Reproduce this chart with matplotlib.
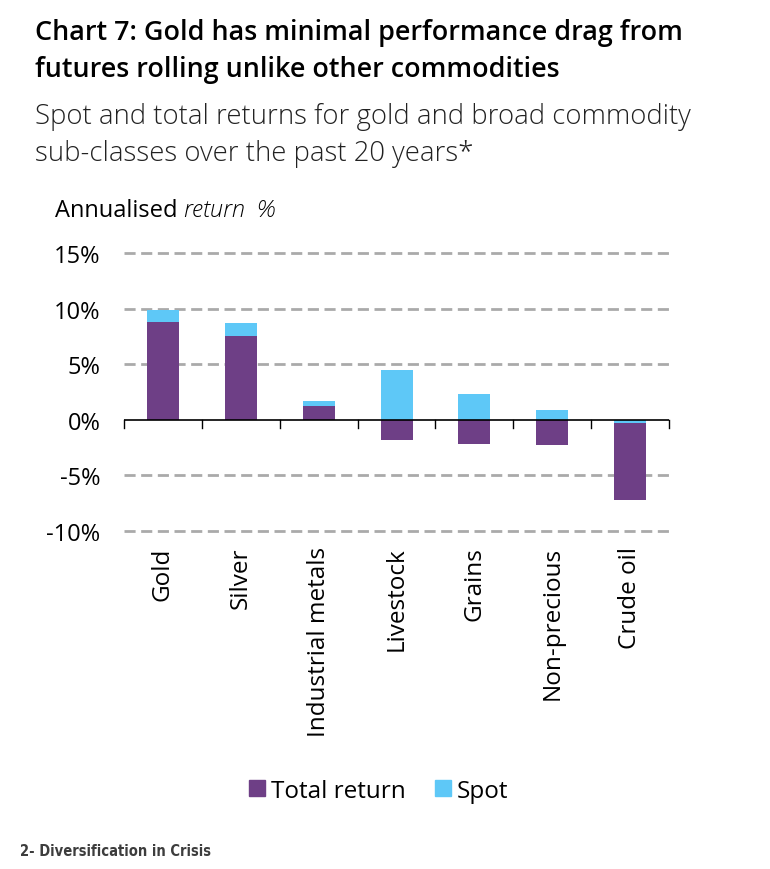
import numpy as np
import matplotlib.pyplot as plt
from matplotlib.patches import Patch

# data (annualised %, past 20 years)
categories = ['Gold', 'Silver', 'Industrial metals', 'Livestock', 'Grains',
              'Non-precious', 'Crude oil']
total_return = [8.8, 7.5, 1.2, -1.8, -2.15, -2.3, -7.25]
spot = [9.9, 8.75, 1.7, 4.5, 2.35, 0.85, -0.25]
yticks = [-10, -5, 0, 5, 10, 15]

purple = '#6e3f86'
blue = '#5ec8f7'
grid_col = '#aaaaaa'

plt.rcParams['font.family'] = ['Open Sans', 'DejaVu Sans']

fig = plt.figure(figsize=(7.7, 8.7), dpi=100)
ax = fig.add_axes([0.161, 0.3885, 0.708, 0.3195])

x = np.arange(len(categories))
w = 0.41
# bigger bar goes behind, smaller one on top (as in the source)
for i in x:
    t, s = total_return[i], spot[i]
    zt, zs = (3, 2) if abs(s) >= abs(t) else (2, 3)
    ax.bar(i, s, w, color=blue, zorder=zs)
    ax.bar(i, t, w, color=purple, zorder=zt)

ax.set_xlim(-0.5, len(categories) - 0.5)
ax.set_ylim(-10, 15)

for v in yticks:
    if v != 0:
        ax.axhline(v, color=grid_col, lw=2.0, ls=(0, (4, 2)), zorder=1,
                   clip_on=False)
ax.axhline(0, color='black', lw=1.2, zorder=4)

# category separators on the zero line
for b in np.arange(-0.5, len(categories), 1.0):
    ax.plot([b, b], [0, -0.7], color='black', lw=1.0, zorder=4,
            clip_on=False)

for sp in ax.spines.values():
    sp.set_visible(False)

ax.set_yticks(yticks)
ax.set_yticklabels([f'{v}%' for v in yticks], fontsize=17)
ax.tick_params(axis='y', length=0, pad=17)
ax.set_xticks(x)
ax.set_xticklabels(categories, rotation=90, fontsize=17.5)
ax.tick_params(axis='x', length=0, pad=11)

# titles
fig.text(0.045, 0.962, 'Chart 7: Gold has minimal performance drag from',
         fontsize=19.4, fontweight='semibold', va='center')
fig.text(0.045, 0.919, 'futures rolling unlike other commodities',
         fontsize=19.4, fontweight='semibold', va='center')
fig.text(0.045, 0.866, 'Spot and total returns for gold and broad commodity',
         fontsize=19.8, fontweight='light', color='#222222', va='center')
fig.text(0.045, 0.823, 'sub-classes over the past 20 years*',
         fontsize=19.8, fontweight='light', color='#222222', va='center')
t1 = fig.text(0.072, 0.758, 'Annualised ', fontsize=17, va='center')
fig.canvas.draw()
bb = t1.get_window_extent()
fig.text(bb.x1 / fig.bbox.width, 0.758, 'return  %', fontsize=17,
         style='italic', fontweight='light', va='center')

handles = [Patch(color=purple, label='Total return'),
           Patch(color=blue, label='Spot')]
fig.legend(handles=handles, loc='center', bbox_to_anchor=(0.492, 0.09),
           ncol=2, frameon=False, fontsize=17.5, handlelength=0.65,
           handleheight=0.65, handletextpad=0.25, columnspacing=1.2)

fig.text(0.026, 0.021, '2- Diversification in Crisis', fontsize=10.5,
         family='DejaVu Sans', fontstretch='condensed',
         fontweight='bold', color='#3d3d3d', va='center')

fig.savefig('out.png', dpi=100, facecolor='white')
